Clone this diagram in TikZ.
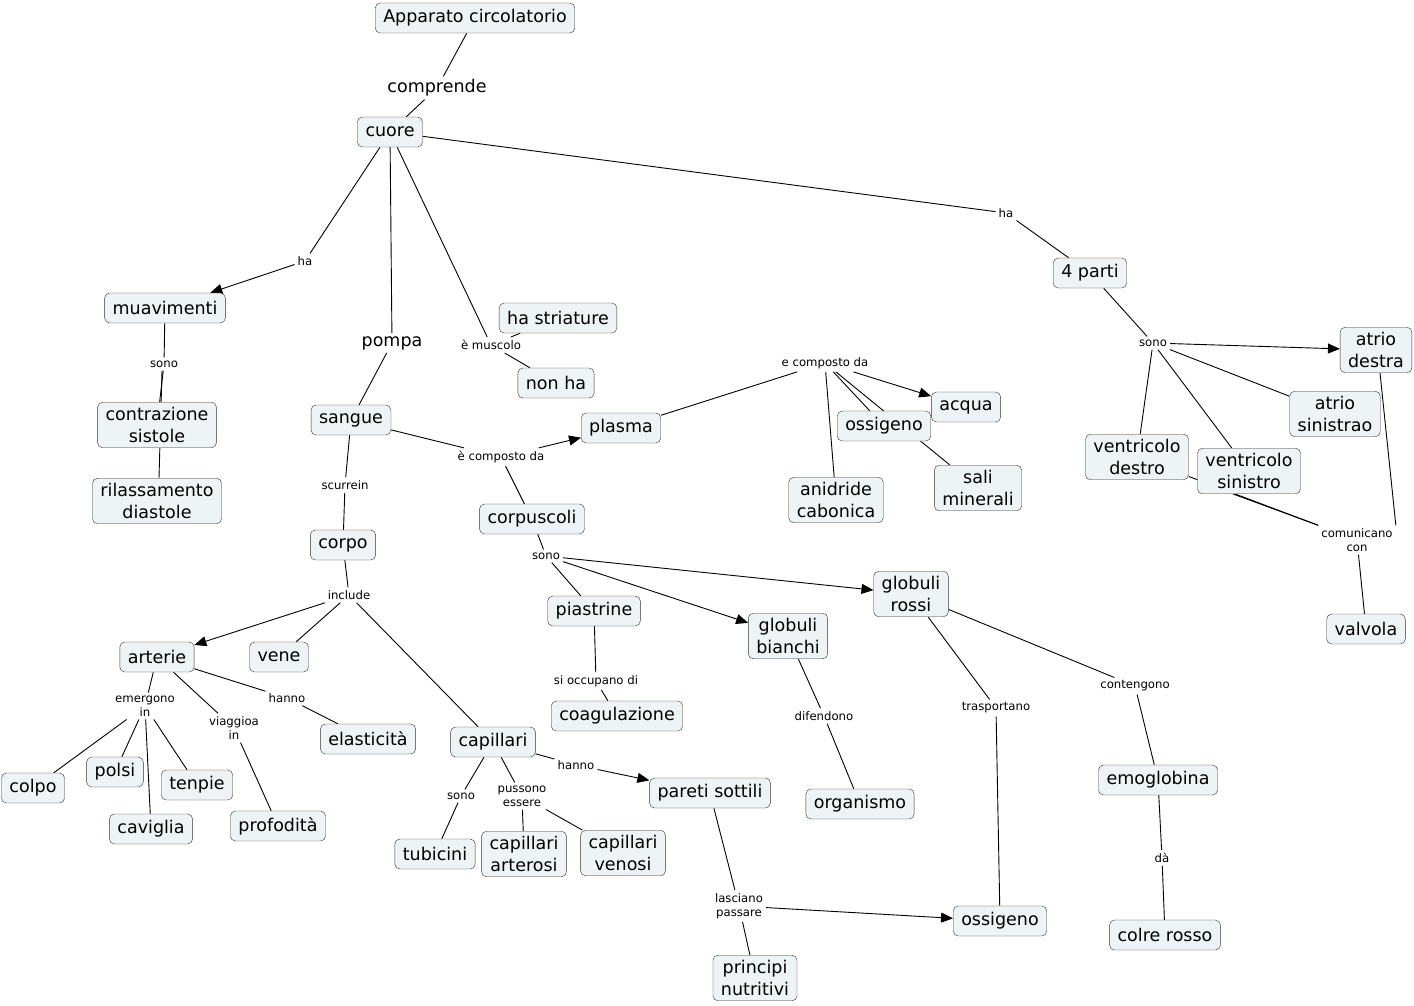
\documentclass[tikz,border=0pt]{standalone}
\usepackage{fontspec}
\setmainfont{DejaVu Sans}
\usetikzlibrary{arrows.meta,backgrounds}
\definecolor{conceptfill}{HTML}{EEF3F5}
\definecolor{conceptline}{HTML}{333333}
\newcommand{\conceptfont}{\fontsize{17.5}{22}\selectfont}
\newcommand{\phrasefont}{\fontsize{11.7}{14}\selectfont}
\tikzset{
  concept/.style={draw=conceptline,fill=conceptfill,rounded corners=5pt,font=\conceptfont,align=center,inner xsep=8pt,inner ysep=5pt,minimum height=30pt},
  phrase/.style={font=\phrasefont,align=center,inner sep=3pt},
  bigphrase/.style={font=\conceptfont,inner sep=3pt},
  link/.style={line width=0.9pt,black},
  linkto/.style={link,-{Triangle[length=12pt,width=10pt]}}
}
\begin{document}
\begin{tikzpicture}[x=1pt,y=-1pt]
  \useasboundingbox (0,0) rectangle (1414,1005);
  % concepts
  \node[concept] (app) at (475,18) {Apparato circolatorio};
  \node[concept] (cuore) at (390,132) {cuore};
  \node[concept] (parti) at (1090,273) {4 parti};
  \node[concept] (muav) at (165,308) {muavimenti};
  \node[concept] (striature) at (558,318) {ha striature};
  \node[concept] (nonha) at (556,383) {non ha};
  \node[concept] (sangue) at (351,420) {sangue};
  \node[concept] (contr) at (157,425) {contrazione\\sistole};
  \node[concept] (rilass) at (157,501) {rilassamento\\diastole};
  \node[concept] (plasma) at (621,428) {plasma};
  \node[concept] (acqua) at (966,407) {acqua};
  \node[concept] (ossplasma) at (884,426) {ossigeno};
  \node[concept] (sali) at (978,488) {sali\\minerali};
  \node[concept] (anidride) at (836,500) {anidride\\cabonica};
  \node[concept] (corpuscoli) at (532,519) {corpuscoli};
  \node[concept] (corpo) at (343,545) {corpo};
  \node[concept] (atriodx) at (1376,350) {atrio\\destra};
  \node[concept] (atriosx) at (1335,414) {atrio\\sinistrao};
  \node[concept] (ventrdx) at (1137,457) {ventricolo\\destro};
  \node[concept] (ventrsx) at (1249,471) {ventricolo\\sinistro};
  \node[concept] (valvola) at (1366,629) {valvola};
  \node[concept] (rossi) at (911,594) {globuli\\rossi};
  \node[concept] (piastrine) at (594,611) {piastrine};
  \node[concept] (bianchi) at (788,636) {globuli\\bianchi};
  \node[concept] (arterie) at (157,657) {arterie};
  \node[concept] (vene) at (279,657) {vene};
  \node[concept] (coag) at (617,716) {coagulazione};
  \node[concept] (elast) at (368,739) {elasticità};
  \node[concept] (capillari) at (493,742) {capillari};
  \node[concept] (colpo) at (33,788) {colpo};
  \node[concept] (polsi) at (115,772) {polsi};
  \node[concept] (tenpie) at (197,785) {tenpie};
  \node[concept] (caviglia) at (151,829) {caviglia};
  \node[concept] (profondita) at (278,826) {profodità};
  \node[concept] (pareti) at (710,793) {pareti sottili};
  \node[concept] (organismo) at (860,804) {organismo};
  \node[concept] (emoglobina) at (1158,780) {emoglobina};
  \node[concept] (tubicini) at (435,854) {tubicini};
  \node[concept] (caparter) at (524,854) {capillari\\arterosi};
  \node[concept] (capvenosi) at (623,853) {capillari\\venosi};
  \node[concept] (ossrossi) at (1000,921) {ossigeno};
  \node[concept] (colre) at (1165,935) {colre rosso};
  \node[concept] (principi) at (755,978) {principi\\nutritivi};
  % linking phrases
  \node[bigphrase] (lcomprende) at (437,88) {comprende};
  \node[phrase] (lhaparti) at (1006,213) {ha};
  \node[phrase] (lhamuav) at (305,261) {ha};
  \node[bigphrase] (lpompa) at (392,343) {pompa};
  \node[phrase] (lmuscolo) at (491,345) {è muscolo};
  \node[phrase] (lsonomuav) at (164,364) {sono};
  \node[phrase] (lscorre) at (345,485) {scurrein};
  \node[phrase] (lcompsangue) at (501,457) {è composto da};
  \node[phrase] (lcompplasma) at (825,363) {e composto da};
  \node[phrase] (lsonoparti) at (1153,343) {sono};
  \node[phrase] (lcomunicano) at (1357,540) {comunicano\\con};
  \node[phrase] (lsonocorp) at (546,556) {sono};
  \node[phrase] (linclude) at (349,595) {include};
  \node[phrase] (loccupano) at (596,681) {si occupano di};
  \node[phrase] (ldifendono) at (824,716) {difendono};
  \node[phrase] (ltrasportano) at (996,708) {trasportano};
  \node[phrase] (lcontengono) at (1135,686) {contengono};
  \node[phrase] (lda) at (1162,858) {dà};
  \node[phrase] (lemergono) at (145,706) {emergono\\in};
  \node[phrase] (lviaggia) at (234,728) {viaggioa\\in};
  \node[phrase] (lhannoart) at (287,698) {hanno};
  \node[phrase] (lhannocap) at (576,765) {hanno};
  \node[phrase] (lsonocap) at (461,796) {sono};
  \node[phrase] (lpossono) at (522,796) {pussono\\essere};
  \node[phrase] (llasciano) at (739,906) {lasciano\\passare};
  % connectors
  \begin{scope}[on background layer]
    \draw[link] (app) -- (lcomprende);
    \draw[link] (lcomprende) -- (cuore);
    \draw[link] (cuore) -- (lhaparti);
    \draw[link] (lhaparti) -- (parti);
    \draw[link] (cuore) -- (lhamuav);
    \draw[linkto] (lhamuav) -- (muav);
    \draw[link] (cuore) -- (lpompa);
    \draw[link] (lpompa) -- (sangue);
    \draw[link] (cuore) -- (lmuscolo);
    \draw[link] (lmuscolo) -- (striature);
    \draw[link] (lmuscolo) -- (nonha);
    \draw[link] (muav) -- (lsonomuav);
    \draw[link] (lsonomuav) -- (contr);
    \draw[link] ([xshift=-2pt]lsonomuav.south) -- ([xshift=2pt]rilass.north);
    \draw[link] (sangue) -- (lscorre);
    \draw[link] (lscorre) -- (corpo);
    \draw[link] (sangue) -- (lcompsangue);
    \draw[linkto] (lcompsangue) -- (plasma);
    \draw[link] (lcompsangue) -- (corpuscoli);
    \draw[link] (plasma) -- (lcompplasma);
    \draw[linkto] (lcompplasma) -- (acqua);
    \draw[link] (lcompplasma) -- (ossplasma);
    \draw[link] (lcompplasma) -- (sali);
    \draw[link] (lcompplasma) -- (anidride);
    \draw[link] (parti) -- (lsonoparti);
    \draw[linkto] (lsonoparti) -- (atriodx);
    \draw[link] (lsonoparti) -- (atriosx);
    \draw[link] (lsonoparti) -- (ventrdx);
    \draw[link] (lsonoparti) -- (ventrsx);
    \draw[link] (ventrdx) -- (lcomunicano.north west);
    \draw[link] ([xshift=-16pt]ventrsx.south) -- (lcomunicano.north west);
    \draw[link] ([xshift=4pt]atriodx.south) -- (lcomunicano.north east);
    \draw[link] (lcomunicano) -- (valvola);
    \draw[link] (corpuscoli) -- (lsonocorp);
    \draw[link] (lsonocorp) -- (piastrine);
    \draw[linkto] (lsonocorp) -- (bianchi);
    \draw[linkto] (lsonocorp) -- (rossi);
    \draw[link] (corpo) -- (linclude);
    \draw[linkto] (linclude) -- (arterie);
    \draw[link] (linclude) -- (vene);
    \draw[link] (linclude) -- (capillari);
    \draw[link] (piastrine) -- (loccupano);
    \draw[link] (loccupano) -- (coag);
    \draw[link] (bianchi) -- (ldifendono);
    \draw[link] (ldifendono) -- (organismo);
    \draw[link] (rossi) -- (ltrasportano);
    \draw[link] (ltrasportano) -- (ossrossi);
    \draw[link] (rossi) -- (lcontengono);
    \draw[link] (lcontengono) -- (emoglobina);
    \draw[link] (emoglobina) -- (lda);
    \draw[link] (lda) -- (colre);
    \draw[link] (arterie) -- (lemergono);
    \draw[link] (lemergono) -- (colpo);
    \draw[link] (lemergono) -- (polsi);
    \draw[link] (lemergono) -- (caviglia);
    \draw[link] (lemergono) -- (tenpie);
    \draw[link] (arterie) -- (lviaggia);
    \draw[link] (lviaggia) -- (profondita);
    \draw[link] (arterie) -- (lhannoart);
    \draw[link] (lhannoart) -- (elast);
    \draw[link] (capillari) -- (lhannocap);
    \draw[linkto] (lhannocap) -- (pareti);
    \draw[link] (capillari) -- (lsonocap);
    \draw[link] (lsonocap) -- (tubicini);
    \draw[link] (capillari) -- (lpossono);
    \draw[link] (lpossono) -- (caparter);
    \draw[link] (lpossono) -- (capvenosi);
    \draw[link] (pareti) -- (llasciano);
    \draw[linkto] (llasciano) -- (ossrossi);
    \draw[link] (llasciano) -- (principi);
  \end{scope}
\end{tikzpicture}
\end{document}
